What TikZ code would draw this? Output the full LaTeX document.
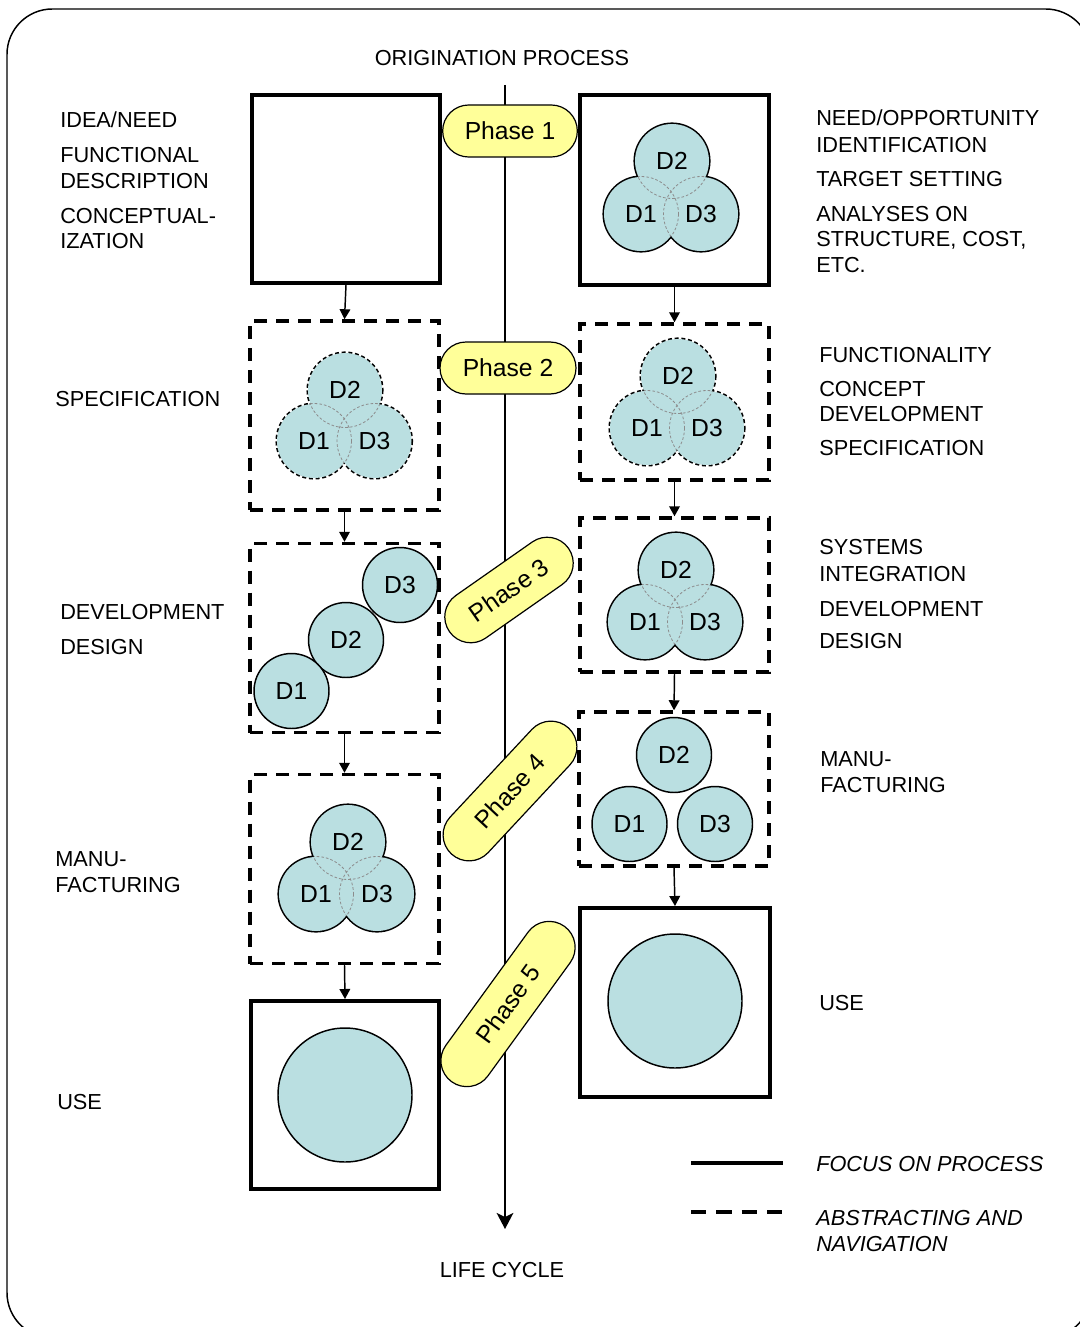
\documentclass[tikz,border=0pt]{standalone}
\usepackage{fontspec}
\setmainfont{Liberation Sans}
\usetikzlibrary{arrows.meta,shapes.misc}
\definecolor{dfill}{HTML}{BADFE1}
\definecolor{pillyel}{HTML}{FFFF99}
\newcommand\lblfont{\fontsize{16.3}{19}\selectfont}
\newcommand\bigfont{\fontsize{18.5}{21}\selectfont}
\tikzset{
  box/.style={draw, line width=3pt, inner sep=0pt},
  dbox/.style={box, line width=2.6pt, dash pattern=on 10pt off 6.5pt},
  arr/.style={line width=1.1pt, -{Triangle[length=7.5pt,width=8pt]}},
  pill/.style={rounded rectangle, draw, fill=pillyel, line width=0.9pt, minimum height=39pt, inner sep=2pt, font=\bigfont},
  dlab/.style={font=\bigfont, inner sep=0pt},
  solidcirc/.style={draw, line width=1.6pt},
  dashcirc/.style={draw, line width=1.6pt, dash pattern=on 3pt off 2pt},
  hiddenline/.style={draw=black!45, line width=0.6pt, dash pattern=on 2pt off 1.5pt},
  onecirc/.style={circle, draw, fill=dfill, line width=1.1pt, inner sep=0pt, minimum size=56.25pt, font=\bigfont},
  bigcirc/.style={circle, draw, fill=dfill, line width=1.1pt, inner sep=0pt, minimum size=100.5pt},
  lbl/.style={anchor=base west, inner sep=0pt, font=\lblfont},
  ilbl/.style={lbl, font=\lblfont\itshape},
}
\newcommand\venn[5]{%
  \draw[#5] #2 circle[radius=37.5] #3 circle[radius=37.5] #4 circle[radius=37.5];
  \fill[dfill] #2 circle[radius=37] #3 circle[radius=37] #4 circle[radius=37];
  \begin{scope}
    \clip #2 circle[radius=37] #3 circle[radius=37] #4 circle[radius=37];
    \draw[hiddenline] #2 circle[radius=37.5] #3 circle[radius=37.5] #4 circle[radius=37.5];
  \end{scope}
  \node[dlab] (#1d2) at #2 {D2};
  \node[dlab] (#1d1) at #3 {D1};
  \node[dlab] (#1d3) at #4 {D3};
}
\begin{document}
\begin{tikzpicture}[x=0.75pt,y=-0.75pt]
\useasboundingbox (0,0) rectangle (1080,1327);
\begin{scope}
  \clip (0,0) rectangle (1080,1327);
  \draw[line width=1.1pt, rounded corners=34pt] (7,9) rectangle (1091,1338);
\end{scope}

% central axis
\node[lbl, anchor=base] (title) at (502,66) {ORIGINATION PROCESS};
\node[lbl, anchor=base] (life) at (502,1277) {LIFE CYCLE};
\coordinate (axtop) at (505,85);
\coordinate (axbot) at (505,1229);
\draw[line width=1.5pt, -{Stealth[length=12pt,width=12.5pt,inset=3pt]}] (axtop) -- (axbot);

% left boxes
\node[box, minimum width=141pt, minimum height=141pt] (L1) at (346,189) {};
\node[dbox, minimum width=141.75pt, minimum height=141.75pt] (L2) at (344.5,415.5) {};
\node[dbox, minimum width=141.75pt, minimum height=141.75pt] (L3) at (344.5,638) {};
\node[dbox, minimum width=141.75pt, minimum height=141.75pt] (L4) at (344.5,869) {};
\node[box, minimum width=141pt, minimum height=141pt] (L5) at (345,1095) {};
% right boxes
\node[box, minimum width=141.75pt, minimum height=141.75pt] (R1) at (674.5,190) {};
\node[dbox, minimum width=141.75pt, minimum height=117pt] (R2) at (674.5,402) {};
\node[dbox, minimum width=141.75pt, minimum height=115.5pt] (R3) at (674.5,595) {};
\node[dbox, minimum width=142.5pt, minimum height=115.5pt] (R4) at (674,789) {};
\node[box, minimum width=142.5pt, minimum height=141.75pt] (R5) at (675,1002.5) {};

\draw[arr] (L1.south) -- (L2.north);
\draw[arr] (L2.south) -- (L3.north);
\draw[arr] (L3.south) -- (L4.north);
\draw[arr] (L4.south) -- (L5.north);
\draw[arr] (R1.south) -- (R2.north);
\draw[arr] (R2.south) -- (R3.north);
\draw[arr] (R3.south) -- (R4.north);
\draw[arr] (R4.south) -- (R5.north);

% circles
\venn{ra}{(672,161)}{(641,214)}{(701,214)}{solidcirc}
\venn{lb}{(345,390)}{(314,441)}{(374.5,441)}{dashcirc}
\venn{rb}{(678,376)}{(647,428)}{(707,428)}{dashcirc}
\venn{rc}{(676,570)}{(645,622)}{(705,622)}{solidcirc}
\venn{ld}{(348,842)}{(316,894)}{(377,894)}{solidcirc}
\node[onecirc] (lcd3) at (400,585) {D3};
\node[onecirc] (lcd2) at (346,640) {D2};
\node[onecirc] (lcd1) at (291.5,691) {D1};
\node[onecirc] (rdd2) at (674,755) {D2};
\node[onecirc] (rdd1) at (629.5,824) {D1};
\node[onecirc] (rdd3) at (715,824) {D3};
\node[bigcirc] (lebig) at (345,1095) {};
\node[bigcirc] (rebig) at (675,1001) {};

% phases
\node[pill, minimum width=105pt] (p1) at (510,131) {Phase 1};
\node[pill, minimum width=106pt] (p2) at (508,368) {Phase 2};
\node[pill, minimum width=113pt, rotate=35] (p3) at (509,590) {Phase 3};
\node[pill, minimum width=133pt, rotate=47] (p4) at (510,791) {Phase 4};
\node[pill, minimum width=148pt, rotate=54] (p5) at (508,1004) {Phase 5};

% left texts
\node[lbl] (t1) at (60,128) {IDEA/NEED};
\node[lbl] (t2) at (60,163) {FUNCTIONAL};
\node[lbl] (t3) at (60,188) {DESCRIPTION};
\node[lbl] (t4) at (60,223) {CONCEPTUAL-};
\node[lbl] (t5) at (60,248) {IZATION};
\node[lbl] (t6) at (55,406) {SPECIFICATION};
\node[lbl] (t7) at (60,619) {DEVELOPMENT};
\node[lbl] (t8) at (60,654) {DESIGN};
\node[lbl] (t9) at (55,866) {MANU-};
\node[lbl] (t10) at (55,892) {FACTURING};
\node[lbl] (t11) at (57,1109) {USE};
% right texts
\node[lbl] (u1) at (816,126) {NEED/OPPORTUNITY};
\node[lbl] (u2) at (816,152) {IDENTIFICATION};
\node[lbl] (u3) at (816,186) {TARGET SETTING};
\node[lbl] (u4) at (816,221) {ANALYSES ON};
\node[lbl] (u5) at (816,246) {STRUCTURE, COST,};
\node[lbl] (u6) at (816,272) {ETC.};
\node[lbl] (u7) at (819,362) {FUNCTIONALITY};
\node[lbl] (u8) at (819,396) {CONCEPT};
\node[lbl] (u9) at (819,421) {DEVELOPMENT};
\node[lbl] (u10) at (819,455) {SPECIFICATION};
\node[lbl] (u11) at (819,554) {SYSTEMS};
\node[lbl] (u12) at (819,581) {INTEGRATION};
\node[lbl] (u13) at (819,616) {DEVELOPMENT};
\node[lbl] (u14) at (819,648) {DESIGN};
\node[lbl] (u15) at (820,766) {MANU-};
\node[lbl] (u16) at (820,792) {FACTURING};
\node[lbl] (u17) at (819,1010) {USE};

% legend
\coordinate (la1) at (691,1163);
\coordinate (la2) at (783,1163);
\coordinate (lb1) at (691,1212);
\coordinate (lb2) at (783,1212);
\draw[line width=2.3pt] (la1) -- (la2);
\draw[line width=2.6pt, dash pattern=on 11.5pt off 7.5pt] (lb1) -- (lb2);
\node[ilbl] (g1) at (816,1171) {FOCUS ON PROCESS};
\node[ilbl] (g2) at (816,1225) {ABSTRACTING AND};
\node[ilbl] (g3) at (816,1251) {NAVIGATION};
\end{tikzpicture}
\end{document}
